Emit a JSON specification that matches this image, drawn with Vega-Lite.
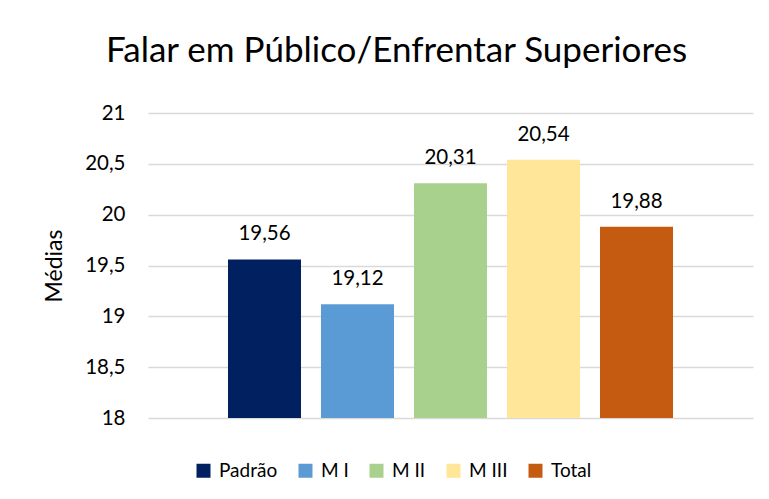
{
  "$schema": "https://vega.github.io/schema/vega-lite/v6.json",
  "width": 605,
  "height": 305,
  "autosize": {"type": "none"},
  "padding": {"left": 148, "top": 113, "right": 16, "bottom": 81},
  "background": "white",
  "config": {
    "locale": {"number": {"decimal": ",", "thousands": ".", "grouping": [3], "currency": ["R$", ""]}},
    "view": {"stroke": null},
    "font": "Lato"
  },
  "title": {
    "text": "Falar em Público/Enfrentar Superiores",
    "font": "Lato",
    "fontSize": 35,
    "fontWeight": "normal",
    "color": "#000000",
    "anchor": "middle",
    "dx": -54,
    "offset": 34
  },
  "data": {
    "values": [
      {"grupo": "Padrão", "media": 19.56},
      {"grupo": "M I", "media": 19.12},
      {"grupo": "M II", "media": 20.31},
      {"grupo": "M III", "media": 20.54},
      {"grupo": "Total", "media": 19.88}
    ]
  },
  "encoding": {
    "x": {
      "field": "grupo",
      "type": "nominal",
      "sort": ["Padrão", "M I", "M II", "M III", "Total"],
      "scale": {"paddingInner": 0.215, "paddingOuter": 0.86},
      "axis": {"labels": false, "ticks": false, "title": null, "domain": false}
    },
    "y": {
      "field": "media",
      "type": "quantitative",
      "scale": {"domain": [18, 21], "nice": false, "zero": false},
      "axis": {
        "values": [18, 18.5, 19, 19.5, 20, 20.5, 21],
        "format": ".1~f",
        "title": "Médias",
        "titleFont": "Lato",
        "titleFontSize": 23,
        "titleFontWeight": "normal",
        "titleColor": "#000000",
        "titlePadding": 18,
        "labelFont": "Lato",
        "labelFontSize": 20.5,
        "labelColor": "#000000",
        "labelPadding": 23,
        "ticks": false,
        "domain": false,
        "grid": true,
        "gridColor": "#D9D9D9",
        "gridWidth": 1.5
      }
    }
  },
  "layer": [
    {
      "mark": {"type": "bar", "clip": true},
      "encoding": {
        "y2": {"datum": 18},
        "color": {
          "field": "grupo",
          "type": "nominal",
          "sort": ["Padrão", "M I", "M II", "M III", "Total"],
          "scale": {
            "domain": ["Padrão", "M I", "M II", "M III", "Total"],
            "range": ["#002060", "#5B9BD5", "#A9D18E", "#FFE699", "#C55A11"]
          },
          "legend": {
            "title": null,
            "orient": "none",
            "direction": "horizontal",
            "legendX": 46,
            "legendY": 348,
            "symbolType": "square",
            "symbolSize": 196,
            "symbolStrokeWidth": 0,
            "labelFont": "Lato",
            "labelFontSize": 19,
            "labelColor": "#000000",
            "columnPadding": 18,
            "labelOffset": 6
          }
        }
      }
    },
    {
      "mark": {"type": "text", "baseline": "middle", "dy": -25, "font": "Lato", "fontSize": 20.5, "color": "#000000"},
      "encoding": {
        "text": {"field": "media", "type": "quantitative", "format": ".2f"}
      }
    }
  ]
}
